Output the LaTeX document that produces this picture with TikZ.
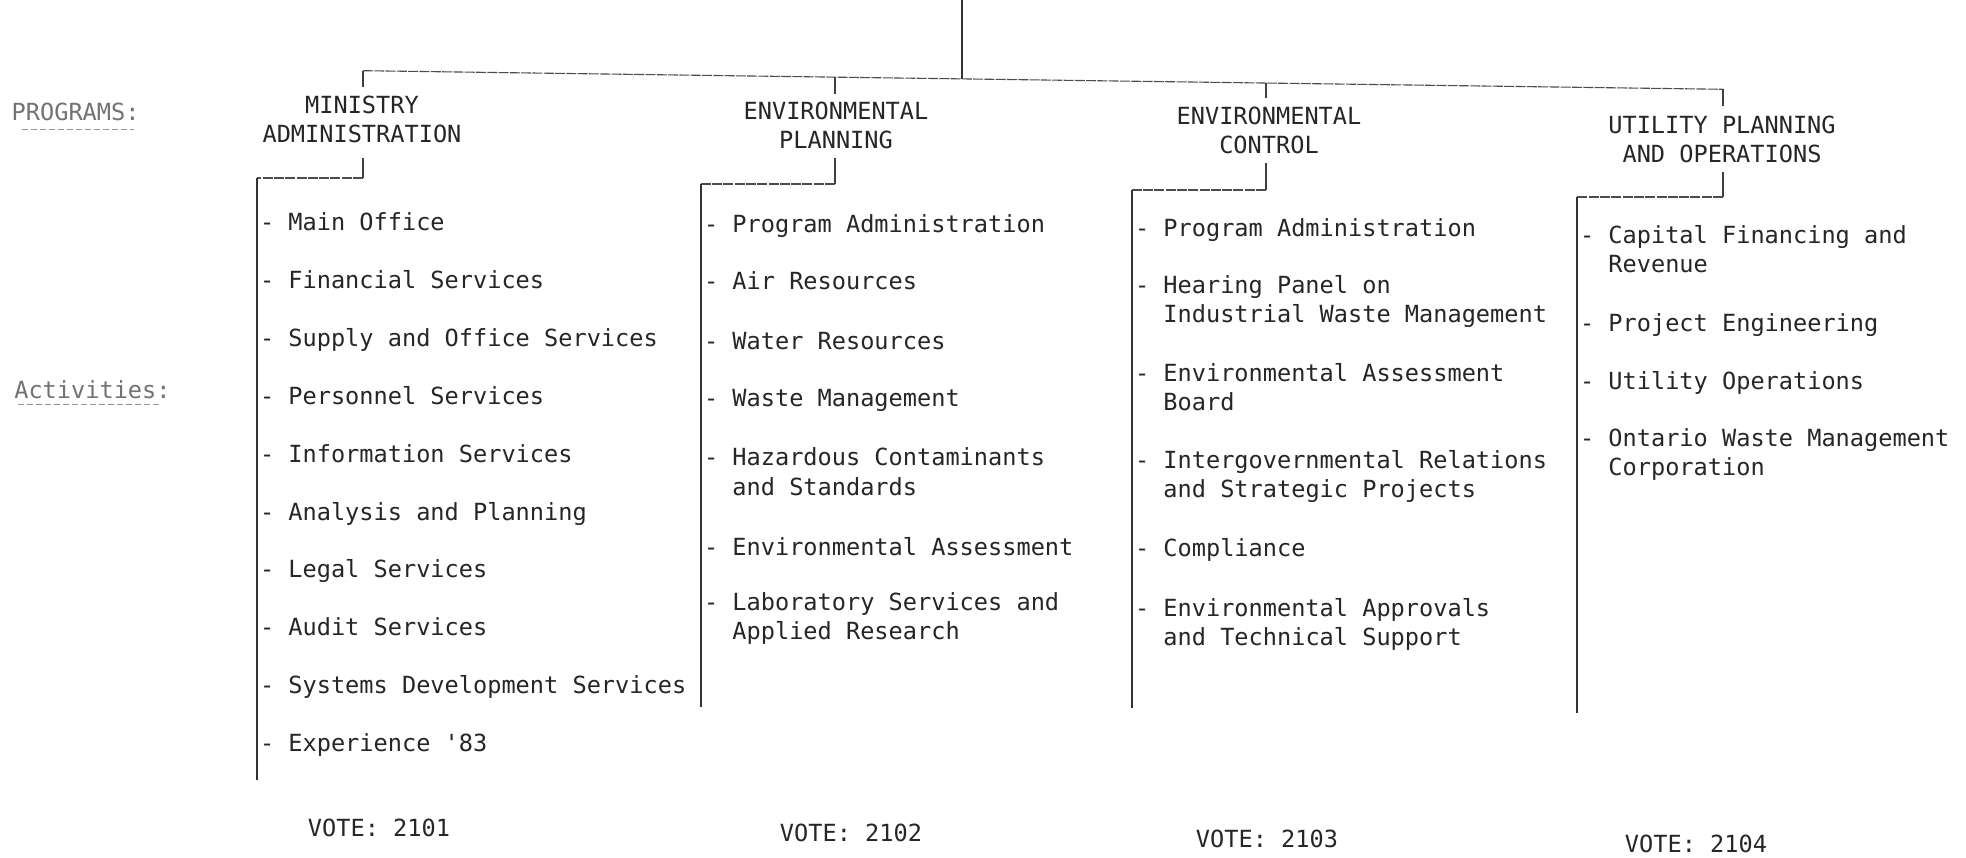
\documentclass[tikz,border=0pt]{standalone}
\usepackage{fontspec}
\newfontfamily\tw{DejaVu Sans Mono}
\usetikzlibrary{calc}
\newcommand\twoC[2]{\vtop{\baselineskip=29pt\halign{\hfil##\hfil\cr#1\cr#2\cr}}}
\newcommand\twoL[2]{\vtop{\baselineskip=29pt\halign{##\hfil\cr#1\cr\hphantom{- }#2\cr}}}
\tikzset{
  txt/.style={font=\tw\fontsize{23.6}{29}\selectfont, text=black!85, inner sep=0pt, outer sep=0pt},
  item/.style={txt, anchor=base west},
  ttl/.style={txt, anchor=base},
  side/.style={txt, text=black!55, anchor=base west},
  vline/.style={draw=black!80, line width=1.8pt},
  tick/.style={draw=black!75, line width=1.3pt},
  hline/.style={draw=black!70, line width=1.1pt, dash pattern=on 10pt off 1.3pt},
  uline/.style={draw=black!40, line width=0.8pt, dash pattern=on 6pt off 3pt},
}
\begin{document}
\begin{tikzpicture}[x=1pt,y=-1pt]
\fill[white] (0,0) rectangle (1966,858);
\useasboundingbox (0,0) rectangle (1966,858);

% side labels
\node[side] (lprog) at (11.7,120.7) {PROGRAMS:};
\node[side] (lact) at (14.3,398.3) {Activities:};
\draw[uline] ([yshift=-9pt]lprog.base west) ++(10,0) -- ([yshift=-9pt,xshift=-6pt]lprog.base east);
\draw[uline] ([yshift=-6pt]lact.base west) ++(4,0) -- ([yshift=-6pt,xshift=-11pt]lact.base east);

% programme titles
\node[ttl] (tM) at (362,113.3) {\twoC{MINISTRY}{ADMINISTRATION}};
\node[ttl] (tEP) at (836,120) {\twoC{ENVIRONMENTAL}{PLANNING}};
\node[ttl] (tEC) at (1269,125) {\twoC{ENVIRONMENTAL}{CONTROL}};
\node[ttl] (tU) at (1722,133.3) {\twoC{UTILITY PLANNING}{AND OPERATIONS}};

% top bar
\coordinate (top) at (962,0);
\coordinate (barL) at (363,70.7);
\coordinate (barR) at (1723,89.3);
\coordinate (bTop) at ($(barL)!0.4404!(barR)$);
\coordinate (bEP) at ($(barL)!0.3471!(barR)$);
\coordinate (bEC) at ($(barL)!0.6640!(barR)$);
\draw[vline] (top) -- (bTop);
\draw[hline] (barL) -- (barR);
\draw[tick] (barL) -- ($(barL |- tM.north)+(0,-9)$);
\draw[tick] (bEP) -- ($(bEP |- tEP.north)+(0,-8)$);
\draw[tick] (bEC) -- ($(bEC |- tEC.north)+(0,-9)$);
\draw[tick] (barR) -- ($(barR |- tU.north)+(0,-10)$);

% lower brackets
\coordinate (mB) at (363,178);   \coordinate (mC) at (257,178);   \coordinate (mD) at (257,780);
\coordinate (epB) at (835,184);  \coordinate (epC) at (701,184);  \coordinate (epD) at (701,707);
\coordinate (ecB) at (1266,190); \coordinate (ecC) at (1132,190); \coordinate (ecD) at (1132,708);
\coordinate (uB) at (1723,197);  \coordinate (uC) at (1577,197);  \coordinate (uD) at (1577,713);
\draw[tick] ($(mB |- tM.south)+(0,15)$) -- (mB);
\draw[tick] ($(epB |- tEP.south)+(0,9)$) -- (epB);
\draw[tick] ($(ecB |- tEC.south)+(0,9)$) -- (ecB);
\draw[tick] ($(uB |- tU.south)+(0,9.5)$) -- (uB);
\draw[hline] (mB) -- (mC);   \draw[vline] (mC) -- (mD);
\draw[hline] (epB) -- (epC); \draw[vline] (epC) -- (epD);
\draw[hline] (ecB) -- (ecC); \draw[vline] (ecC) -- (ecD);
\draw[hline] (uB) -- (uC);   \draw[vline] (uC) -- (uD);

% Ministry Administration activities
\node[item] (m1) at (260,231.0) {- Main Office};
\node[item] (m2) at (260,288.8) {- Financial Services};
\node[item] (m3) at (260,346.6) {- Supply and Office Services};
\node[item] (m4) at (260,404.4) {- Personnel Services};
\node[item] (m5) at (260,462.2) {- Information Services};
\node[item] (m6) at (260,520.0) {- Analysis and Planning};
\node[item] (m7) at (260,577.8) {- Legal Services};
\node[item] (m8) at (260,635.6) {- Audit Services};
\node[item] (m9) at (260,693.4) {- Systems Development Services};
\node[item] (m10) at (260,751.2) {- Experience '83};

% Environmental Planning activities
\node[item] (e1) at (704,233) {- Program Administration};
\node[item] (e2) at (704,290) {- Air Resources};
\node[item] (e3) at (704,350) {- Water Resources};
\node[item] (e4) at (704,406.7) {- Waste Management};
\node[item] (e5) at (704,466) {\twoL{- Hazardous Contaminants}{and Standards}};
\node[item] (e6) at (704,555) {- Environmental Assessment};
\node[item] (e7) at (704,610) {\twoL{- Laboratory Services and}{Applied Research}};

% Environmental Control activities
\node[item] (c1) at (1135,236.7) {- Program Administration};
\node[item] (c2) at (1135,294) {\twoL{- Hearing Panel on}{Industrial Waste Management}};
\node[item] (c3) at (1135,381.7) {\twoL{- Environmental Assessment}{Board}};
\node[item] (c4) at (1135,468.3) {\twoL{- Intergovernmental Relations}{and Strategic Projects}};
\node[item] (c5) at (1135,556.7) {- Compliance};
\node[item] (c6) at (1135,616.7) {\twoL{- Environmental Approvals}{and Technical Support}};

% Utility Planning and Operations activities
\node[item] (u1) at (1580,244) {\twoL{- Capital Financing and}{Revenue}};
\node[item] (u2) at (1580,331.7) {- Project Engineering};
\node[item] (u3) at (1580,390) {- Utility Operations};
\node[item] (u4) at (1580,446.7) {\twoL{- Ontario Waste Management}{Corporation}};

% votes
\node[ttl] (v1) at (379,836.7) {VOTE: 2101};
\node[ttl] (v2) at (851,841.7) {VOTE: 2102};
\node[ttl] (v3) at (1267,847.3) {VOTE: 2103};
\node[ttl] (v4) at (1696,852.7) {VOTE: 2104};
\end{tikzpicture}
\end{document}
